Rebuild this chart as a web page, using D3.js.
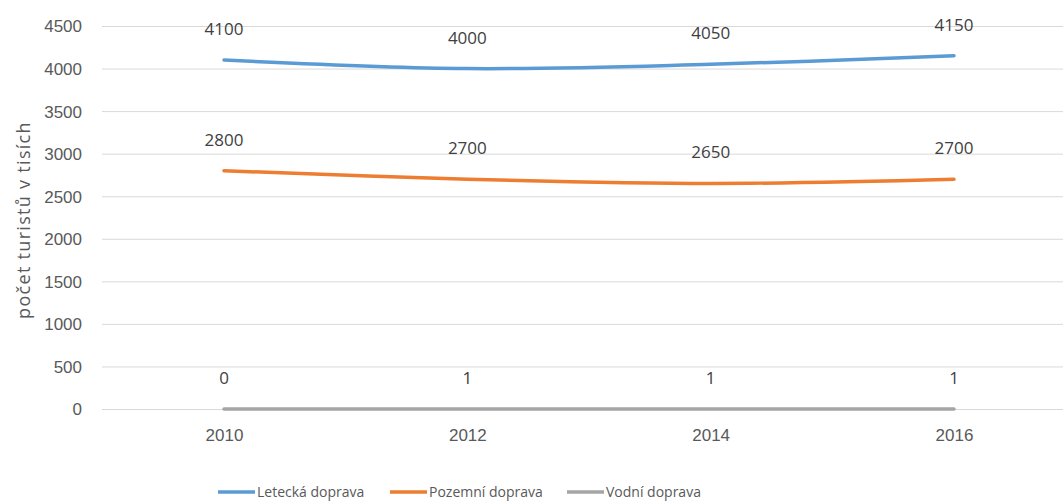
<!DOCTYPE html>
<html><head><meta charset="utf-8">
<script src="https://cdn.jsdelivr.net/npm/d3@7"></script>
<style>body{margin:0;background:#fff;}svg{display:block;font-family:"Open Sans","Noto Sans",sans-serif;}</style>
</head><body>
<svg id="c" width="1063" height="504"></svg>
<script>
const years = ["2010","2012","2014","2016"];
const seriesNames = ["Letecká doprava","Pozemní doprava","Vodní doprava"];
const letecka = [4100, 4000, 4050, 4150];
const pozemni = [2800, 2700, 2650, 2700];
const vodni = [0, 1, 1, 1];
const yTicks = [0,500,1000,1500,2000,2500,3000,3500,4000,4500];
const colors = ["#5B9BD5","#ED7D31","#A5A5A5"];
const series = [letecka, pozemni, vodni];

const svg = d3.select("#c");
const x = d3.scalePoint().domain(years).range([224, 954]);
const y = d3.scaleLinear().domain([0,4500]).range([409, 26]);

// gridlines
svg.append("g").selectAll("line").data(yTicks).join("line")
  .attr("x1", 102).attr("x2", 1063)
  .attr("y1", d=>y(d)+0.5).attr("y2", d=>y(d)+0.5)
  .attr("stroke", "#D9D9D9").attr("stroke-width", 1);

// y axis labels
const yAxis = d3.axisLeft(y).tickValues(yTicks).tickFormat(d3.format("d")).tickSize(0).tickPadding(0);
const ga = svg.append("g").attr("transform","translate(82,0)").call(yAxis);
ga.select(".domain").remove();
ga.selectAll("text").attr("fill","#595959").style("font-size","17px").attr("dy","0.35em");

// x axis labels
const xAxis = d3.axisBottom(x).tickSize(0).tickPadding(0);
const gx = svg.append("g").attr("transform","translate(0,435)").call(xAxis);
gx.select(".domain").remove();
gx.selectAll("text").attr("fill","#595959").style("font-size","17px").attr("y",0).attr("dy","0.35em");

// y title
svg.append("text").attr("transform","translate(24,220) rotate(-90)")
  .attr("text-anchor","middle").attr("dy","0.35em").attr("fill","#595959")
  .style("font-size","18px").style("letter-spacing","1.3px")
  .text("počet turistů v tisích");

const line = d3.line().x((d,i)=>x(years[i])).y(d=>y(d)).curve(d3.curveCatmullRom.alpha(0.5));

series.forEach((s,k)=>{
  svg.append("path").datum(s).attr("d", line).attr("fill","none")
    .attr("stroke", colors[k]).attr("stroke-width", 3.5).attr("stroke-linecap","round");
});
series.forEach((s,k)=>{
  svg.append("g").selectAll("text").data(s).join("text")
    .attr("x",(d,i)=>x(years[i])).attr("y", d=>y(d)-31)
    .attr("dy","0.35em").attr("text-anchor","middle")
    .attr("fill","#404040").style("font-size","17px").text(d=>d);
});

// legend
const legendX = [218, 390, 567];
const lg = svg.append("g");
seriesNames.forEach((n,k)=>{
  lg.append("line").attr("x1",legendX[k]).attr("x2",legendX[k]+37)
    .attr("y1",492).attr("y2",492).attr("stroke",colors[k]).attr("stroke-width",3.5);
  lg.append("text").attr("x",legendX[k]+39).attr("y",492).attr("dy","0.35em")
    .attr("fill","#595959").style("font-size","14px").text(n);
});
</script>
</body></html>
